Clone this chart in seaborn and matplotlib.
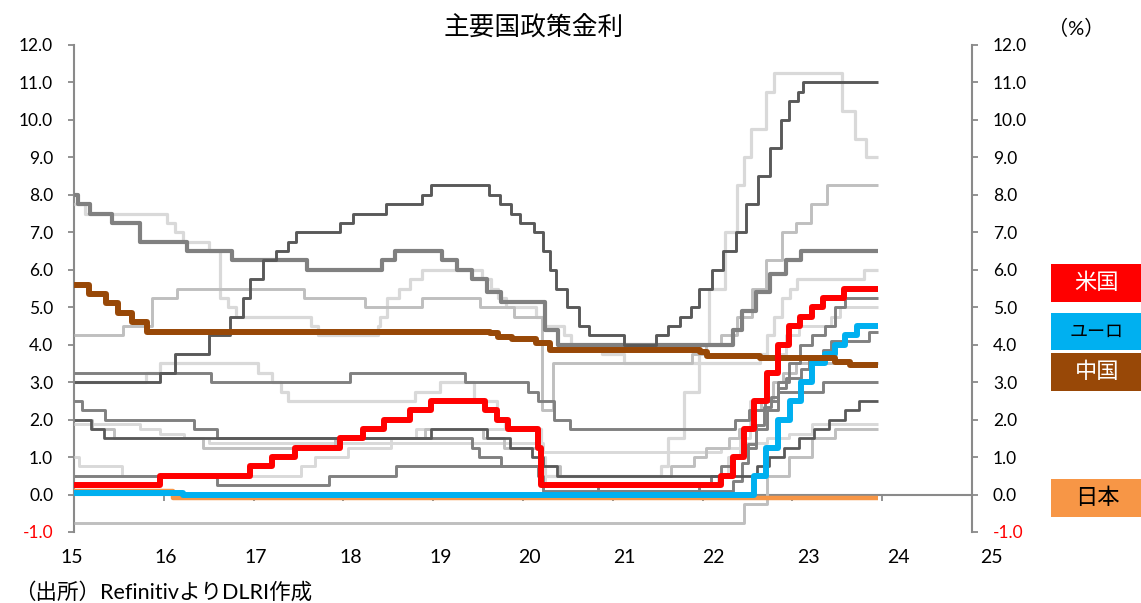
import matplotlib
matplotlib.use("Agg")
import matplotlib.pyplot as plt
from matplotlib.patches import Rectangle
import pandas as pd
import seaborn as sns

# ---------------------------------------------------------------
# Policy rates (%) as change points: (year - 2000, new rate level)
# ---------------------------------------------------------------
END = 23.95

us = [(15.00, 0.25), (15.96, 0.5), (16.96, 0.75), (17.21, 1.0), (17.46, 1.25),
      (17.96, 1.5), (18.22, 1.75), (18.45, 2.0), (18.74, 2.25), (18.97, 2.5),
      (19.58, 2.25), (19.71, 2.0), (19.83, 1.75), (20.17, 1.25), (20.20, 0.25),
      (22.21, 0.5), (22.34, 1.0), (22.46, 1.75), (22.57, 2.5), (22.72, 3.25),
      (22.84, 4.0), (22.96, 4.5), (23.08, 4.75), (23.22, 5.0), (23.34, 5.25),
      (23.57, 5.5)]

euro = [(15.00, 0.05), (16.21, 0.0), (22.57, 0.5), (22.71, 1.25), (22.84, 2.0),
        (22.97, 2.5), (23.10, 3.0), (23.22, 3.5), (23.36, 3.75), (23.47, 4.0),
        (23.59, 4.25), (23.72, 4.5)]

china = [(15.00, 5.6), (15.17, 5.35), (15.36, 5.1), (15.49, 4.85), (15.65, 4.6),
         (15.81, 4.35), (19.63, 4.31), (19.72, 4.2), (19.88, 4.15), (20.14, 4.05),
         (20.30, 3.85), (21.97, 3.8), (22.05, 3.7), (22.64, 3.65), (23.47, 3.55),
         (23.64, 3.45)]

japan = [(15.00, 0.1), (16.10, -0.1)]

mexico = [(15.00, 3.0), (15.96, 3.25), (16.12, 3.75), (16.50, 4.25), (16.74, 4.75),
          (16.88, 5.25), (16.96, 5.75), (17.11, 6.25), (17.25, 6.5), (17.38, 6.75),
          (17.47, 7.0), (17.96, 7.25), (18.11, 7.5), (18.47, 7.75), (18.87, 8.0),
          (18.97, 8.25), (19.62, 8.0), (19.74, 7.75), (19.87, 7.5), (19.97, 7.25),
          (20.12, 7.0), (20.22, 6.5), (20.30, 6.0), (20.37, 5.5), (20.49, 5.0),
          (20.62, 4.5), (20.73, 4.25), (21.12, 4.0), (21.48, 4.25), (21.62, 4.5),
          (21.75, 4.75), (21.87, 5.0), (21.96, 5.5), (22.11, 6.0), (22.23, 6.5),
          (22.37, 7.0), (22.48, 7.75), (22.62, 8.5), (22.75, 9.25), (22.87, 10.0),
          (22.96, 10.5), (23.06, 10.75), (23.12, 11.0)]

india = [(15.00, 8.0), (15.04, 7.75), (15.18, 7.5), (15.42, 7.25), (15.74, 6.75),
         (16.26, 6.5), (16.76, 6.25), (17.59, 6.0), (18.43, 6.25), (18.58, 6.5),
         (19.10, 6.25), (19.26, 6.0), (19.43, 5.75), (19.60, 5.4), (19.76, 5.15),
         (20.24, 4.4), (20.39, 4.0), (22.34, 4.4), (22.44, 4.9), (22.59, 5.4),
         (22.75, 5.9), (22.93, 6.25), (23.10, 6.5)]

indonesia = [(15.00, 7.75), (15.12, 7.5), (16.04, 7.25), (16.12, 7.0), (16.21, 6.75),
             (16.50, 6.5), (16.63, 5.25), (16.72, 5.0), (16.80, 4.75), (17.64, 4.5),
             (17.72, 4.25), (18.38, 4.5), (18.41, 4.75), (18.49, 5.25), (18.62, 5.5),
             (18.74, 5.75), (18.87, 6.0), (19.54, 5.75), (19.64, 5.5), (19.72, 5.25),
             (19.81, 5.0), (20.14, 4.75), (20.22, 4.5), (20.46, 4.25), (20.54, 4.0),
             (20.88, 3.75), (21.13, 3.5), (22.64, 3.75), (22.72, 4.25), (22.80, 4.75),
             (22.88, 5.25), (22.97, 5.5), (23.05, 5.75), (23.80, 6.0)]

chile = [(15.00, 3.0), (15.80, 3.25), (15.96, 3.5), (17.05, 3.25), (17.21, 3.0),
         (17.30, 2.75), (17.38, 2.5), (18.80, 2.75), (19.08, 3.0), (19.45, 2.5),
         (19.71, 2.0), (19.80, 1.75), (20.20, 1.0), (20.25, 0.5), (21.54, 0.75),
         (21.62, 1.5), (21.79, 2.75), (21.96, 4.0), (22.07, 5.5), (22.25, 7.0),
         (22.38, 8.25), (22.46, 9.0), (22.54, 9.75), (22.71, 10.75), (22.79, 11.25),
         (23.55, 10.25), (23.70, 9.5), (23.82, 9.0)]

south_africa = [(15.00, 4.25), (15.55, 4.5), (15.87, 5.25), (16.15, 5.5), (17.56, 5.25),
                (18.24, 5.0), (18.88, 5.25), (19.52, 5.0), (19.90, 4.75), (20.21, 2.25),
                (20.33, 3.5), (21.88, 3.75), (22.04, 4.0), (22.21, 4.25), (22.38, 4.75),
                (22.55, 5.5), (22.71, 6.25), (22.88, 7.0), (23.04, 7.25), (23.21, 7.75),
                (23.38, 8.25)]

malaysia = [(15.00, 3.25), (16.53, 3.0), (18.07, 3.25), (19.35, 3.0), (20.06, 2.75),
            (20.17, 2.5), (20.34, 2.0), (20.52, 1.75), (22.36, 2.0), (22.52, 2.25),
            (22.69, 2.5), (22.84, 2.75), (23.34, 3.0)]

thailand = [(15.00, 2.0), (15.19, 1.75), (15.33, 1.5), (18.97, 1.75), (19.60, 1.5),
            (19.85, 1.25), (20.10, 1.0), (20.22, 0.75), (20.38, 0.5), (22.61, 0.75),
            (22.74, 1.0), (22.91, 1.25), (23.07, 1.5), (23.24, 1.75), (23.41, 2.0),
            (23.59, 2.25), (23.74, 2.5)]

australia = [(15.00, 2.5), (15.09, 2.25), (15.34, 2.0), (16.34, 1.75), (16.59, 1.5),
             (19.43, 1.25), (19.51, 1.0), (19.75, 0.75), (20.17, 0.5), (20.22, 0.25),
             (20.84, 0.1), (22.34, 0.35), (22.44, 0.85), (22.51, 1.35), (22.59, 1.85),
             (22.68, 2.35), (22.76, 2.6), (22.84, 2.85), (22.93, 3.1), (23.10, 3.35),
             (23.18, 3.6), (23.34, 3.85), (23.43, 4.1), (23.85, 4.35)]

taiwan = [(15.00, 1.875), (15.73, 1.75), (15.96, 1.625), (16.23, 1.5), (16.50, 1.375),
          (20.22, 1.125), (22.21, 1.25), (22.46, 1.375), (22.72, 1.5), (22.96, 1.625),
          (23.22, 1.875)]

canada = [(15.00, 1.0), (15.06, 0.75), (15.54, 0.5), (17.53, 0.75), (17.68, 1.0),
          (18.05, 1.25), (18.53, 1.5), (18.81, 1.75), (20.17, 1.25), (20.20, 0.75),
          (20.24, 0.25), (22.17, 0.5), (22.28, 1.0), (22.42, 1.5), (22.53, 2.5),
          (22.69, 3.25), (22.82, 3.75), (22.93, 4.25), (23.07, 4.5), (23.43, 4.75),
          (23.53, 5.0)]

uk = [(15.00, 0.5), (16.59, 0.25), (17.84, 0.5), (18.59, 0.75), (20.19, 0.25),
      (20.22, 0.1), (21.96, 0.25), (22.09, 0.5), (22.21, 0.75), (22.34, 1.0),
      (22.46, 1.25), (22.59, 1.75), (22.72, 2.25), (22.84, 3.0), (22.96, 3.5),
      (23.09, 4.0), (23.22, 4.25), (23.36, 4.5), (23.47, 5.0), (23.59, 5.25)]

korea = [(15.00, 2.0), (15.20, 1.75), (15.45, 1.5), (16.44, 1.25), (17.91, 1.5),
         (18.91, 1.75), (19.55, 1.5), (19.79, 1.25), (20.21, 0.75), (20.41, 0.5),
         (21.65, 0.75), (21.90, 1.0), (22.04, 1.25), (22.29, 1.5), (22.40, 1.75),
         (22.54, 2.25), (22.65, 2.5), (22.78, 3.0), (22.90, 3.25), (23.04, 3.5)]

switzerland = [(15.00, -0.75), (22.46, -0.25), (22.72, 0.5), (22.96, 1.0),
               (23.22, 1.5), (23.47, 1.75)]

y_ticks = [-1, 0, 1, 2, 3, 4, 5, 6, 7, 8, 9, 10, 11, 12]
year_ticks = [15, 16, 17, 18, 19, 20, 21, 22, 23, 24, 25]
year_labels = ["15", "16", "17", "18", "19", "20", "21", "22", "23", "24", "25"]
year_label_pos = [14.98, 16.02, 17.02, 18.08, 19.08, 20.07, 21.13, 22.12, 23.18, 24.18, 25.22]

legend_names = ["米国", "ユーロ", "中国", "日本"]

# ---------------------------------------------------------------
# Styling
# ---------------------------------------------------------------
DARK, MID, SOFT, LIGHT = "#595959", "#808080", "#bfbfbf", "#d9d9d9"
RED, CYAN, BROWN, ORANGE = "#ff0000", "#00b0f0", "#984807", "#f79646"
AXIS = "#8a8a8a"

series = {
    "switzerland": (switzerland, SOFT, 2.1, 2),
    "taiwan": (taiwan, LIGHT, 2.1, 2),
    "canada": (canada, LIGHT, 2.1, 2),
    "chile": (chile, LIGHT, 2.3, 2),
    "indonesia": (indonesia, LIGHT, 2.3, 2),
    "south_africa": (south_africa, SOFT, 2.1, 2),
    "korea": (korea, SOFT, 2.1, 3),
    "uk": (uk, MID, 2.1, 3),
    "australia": (australia, MID, 2.1, 3),
    "malaysia": (malaysia, MID, 2.1, 3),
    "india": (india, MID, 3.0, 3),
    "thailand": (thailand, DARK, 2.0, 4),
    "mexico": (mexico, DARK, 2.1, 4),
    "japan": (japan, ORANGE, 3.2, 6),
    "euro": (euro, CYAN, 4.3, 7),
    "china": (china, BROWN, 4.3, 8),
    "us": (us, RED, 4.3, 9),
}

rows = []
for name, (pts, *_rest) in series.items():
    for t, v in pts:
        rows.append((name, t, v))
    rows.append((name, END, pts[-1][1]))
df = pd.DataFrame(rows, columns=["series", "t", "rate"])

sns.set_theme(style="white")
plt.rcParams["font.family"] = ["Lato", "Noto Sans CJK JP", "DejaVu Sans"]
plt.rcParams["axes.unicode_minus"] = False

fig = plt.figure(figsize=(11.41, 6.03), dpi=100)
PX_YR = 89.8
x_left_px = 74 - 0.1 * PX_YR
x_right_px = 74 + 10.3 * PX_YR
ax = fig.add_axes([x_left_px / 1141, (603 - 532) / 603,
                   (x_right_px - x_left_px) / 1141, (532 - 45) / 603])

for name, (pts, color, lw, z) in series.items():
    sub = df[df["series"] == name]
    sns.lineplot(data=sub, x="t", y="rate", ax=ax, color=color, linewidth=lw,
                 drawstyle="steps-post", estimator=None, sort=False,
                 legend=False, zorder=z, solid_capstyle="butt")

ax.set_xlabel("")
ax.set_ylabel("")
ax.set_xlim(14.9, 25.3)
ax.set_ylim(-1, 12)

ax.spines["top"].set_visible(False)
ax.spines["left"].set_position(("data", 15))
ax.spines["right"].set_position(("data", 25))
ax.spines["bottom"].set_position(("data", 0))
ax.spines["left"].set_bounds(-1, 12)
ax.spines["right"].set_bounds(-1, 12)
ax.spines["bottom"].set_bounds(15, 25)
for s in ("left", "right", "bottom"):
    ax.spines[s].set_color(AXIS)
    ax.spines[s].set_linewidth(1.5)
    ax.spines[s].set_zorder(1)

ax.set_yticks(y_ticks, [f"{v:.1f}" for v in y_ticks])
ax.tick_params(axis="y", which="major", left=True, right=True, labelleft=True,
               labelright=True, direction="out", length=4, width=1.3,
               color=AXIS, pad=11, labelsize=12.5, labelcolor="black")
for tick in ax.yaxis.get_major_ticks():
    if tick.get_loc() == -1:
        tick.label1.set_color("red")
        tick.label2.set_color("red")

ax.set_xticks(year_ticks, [""] * len(year_ticks))
ax.set_xticks(year_label_pos, year_labels, minor=True)
ax.tick_params(axis="x", which="major", bottom=True, direction="out", length=4,
               width=1.3, color=AXIS)
ax.tick_params(axis="x", which="minor", bottom=True, length=0, pad=39,
               labelsize=14, labelcolor="black")
ax.grid(False)

jp = ["Lato", "Noto Sans CJK JP", "DejaVu Sans"]
fig.text(534 / 1141, 1 - 28 / 603, "主要国政策金利", ha="center", va="center",
         fontsize=18.5, family=jp, color="black")
fig.text(1076 / 1141, 1 - 28 / 603, "（%）", ha="center", va="center",
         fontsize=14.5, family=jp, color="black")
fig.text(14 / 1141, 1 - 592 / 603, "（出所）RefinitivよりDLRI作成", ha="left",
         va="center", fontsize=15.5, family=jp, color="black")

# colour key boxes at the right edge
boxes = [(264, 302, RED, "white", 16), (313, 350, CYAN, "black", 13),
         (353, 391, BROWN, "white", 16), (479, 517, ORANGE, "black", 16)]
for label, (top, bot, fc, tc, fs) in zip(legend_names, boxes):
    fig.patches.append(Rectangle((1051 / 1141, 1 - bot / 603), 90 / 1141,
                                 (bot - top) / 603, transform=fig.transFigure,
                                 facecolor=fc, edgecolor="none"))
    fig.text(1097 / 1141, 1 - (top + bot) / 2 / 603, label, ha="center",
             va="center", fontsize=fs, family=jp, color=tc)

fig.savefig("out.png", dpi=100)
